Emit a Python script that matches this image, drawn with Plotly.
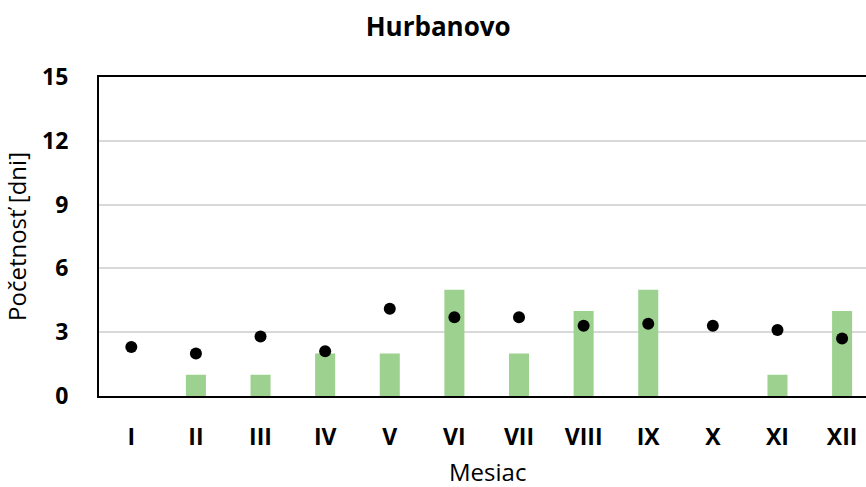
import plotly.graph_objects as go

# data
mesiace = ["I", "II", "III", "IV", "V", "VI", "VII", "VIII", "IX", "X", "XI", "XII"]
pocet_dni = [0, 1, 1, 2, 2, 5, 2, 4, 5, 0, 1, 4]
priemer = [2.3, 2.0, 2.8, 2.1, 4.1, 3.7, 3.7, 3.3, 3.4, 3.3, 3.1, 2.7]
y_ticks = [0, 3, 6, 9, 12, 15]

font = "Open Sans, Liberation Sans, Arial"

fig = go.Figure()
fig.add_trace(go.Bar(
    x=mesiace, y=pocet_dni,
    marker=dict(color="#9dd18f", line=dict(width=0)),
    width=0.31, showlegend=False))
fig.add_trace(go.Scatter(
    x=mesiace, y=priemer, mode="markers",
    marker=dict(color="black", size=12),
    showlegend=False))

fig.update_layout(
    width=866, height=487,
    margin=dict(l=99, r=0, t=77, b=91),
    paper_bgcolor="white", plot_bgcolor="white",
    font=dict(family=font, color="black"),
    title=dict(text="Hurbanovo", x=0.506, xanchor="center",
               y=0.945, yanchor="middle",
               font=dict(size=26, color="black", weight="bold")),
)
# x axis title as annotation (sits a bit right of plot centre, like the original)
fig.add_annotation(text="Mesiac", xref="paper", yref="paper",
                   x=0.507, y=-0.238, xanchor="center", yanchor="middle",
                   showarrow=False, font=dict(size=24, family=font))
fig.update_xaxes(
    range=[-0.5, 11.37], showline=True, linecolor="black", linewidth=2,
    mirror=True, ticks="", ticklabelstandoff=19, automargin=False,
    tickfont=dict(size=23, family=font, weight="bold"),
    showgrid=False)
fig.update_yaxes(
    range=[0, 15], tickvals=y_ticks, showline=True, linecolor="black",
    linewidth=2, ticks="", ticklabelstandoff=24, automargin=False,
    tickfont=dict(size=23, family=font, weight="bold"),
    gridcolor="#d9d9d9", gridwidth=2, zeroline=False,
    title=dict(text="Početnosť [dni]", font=dict(size=24), standoff=10))

# drop the default 8px body margin so the figure fills the window
fig.write_html("out.html", config={"displayModeBar": False},
               post_script="document.body.style.margin='0';")
